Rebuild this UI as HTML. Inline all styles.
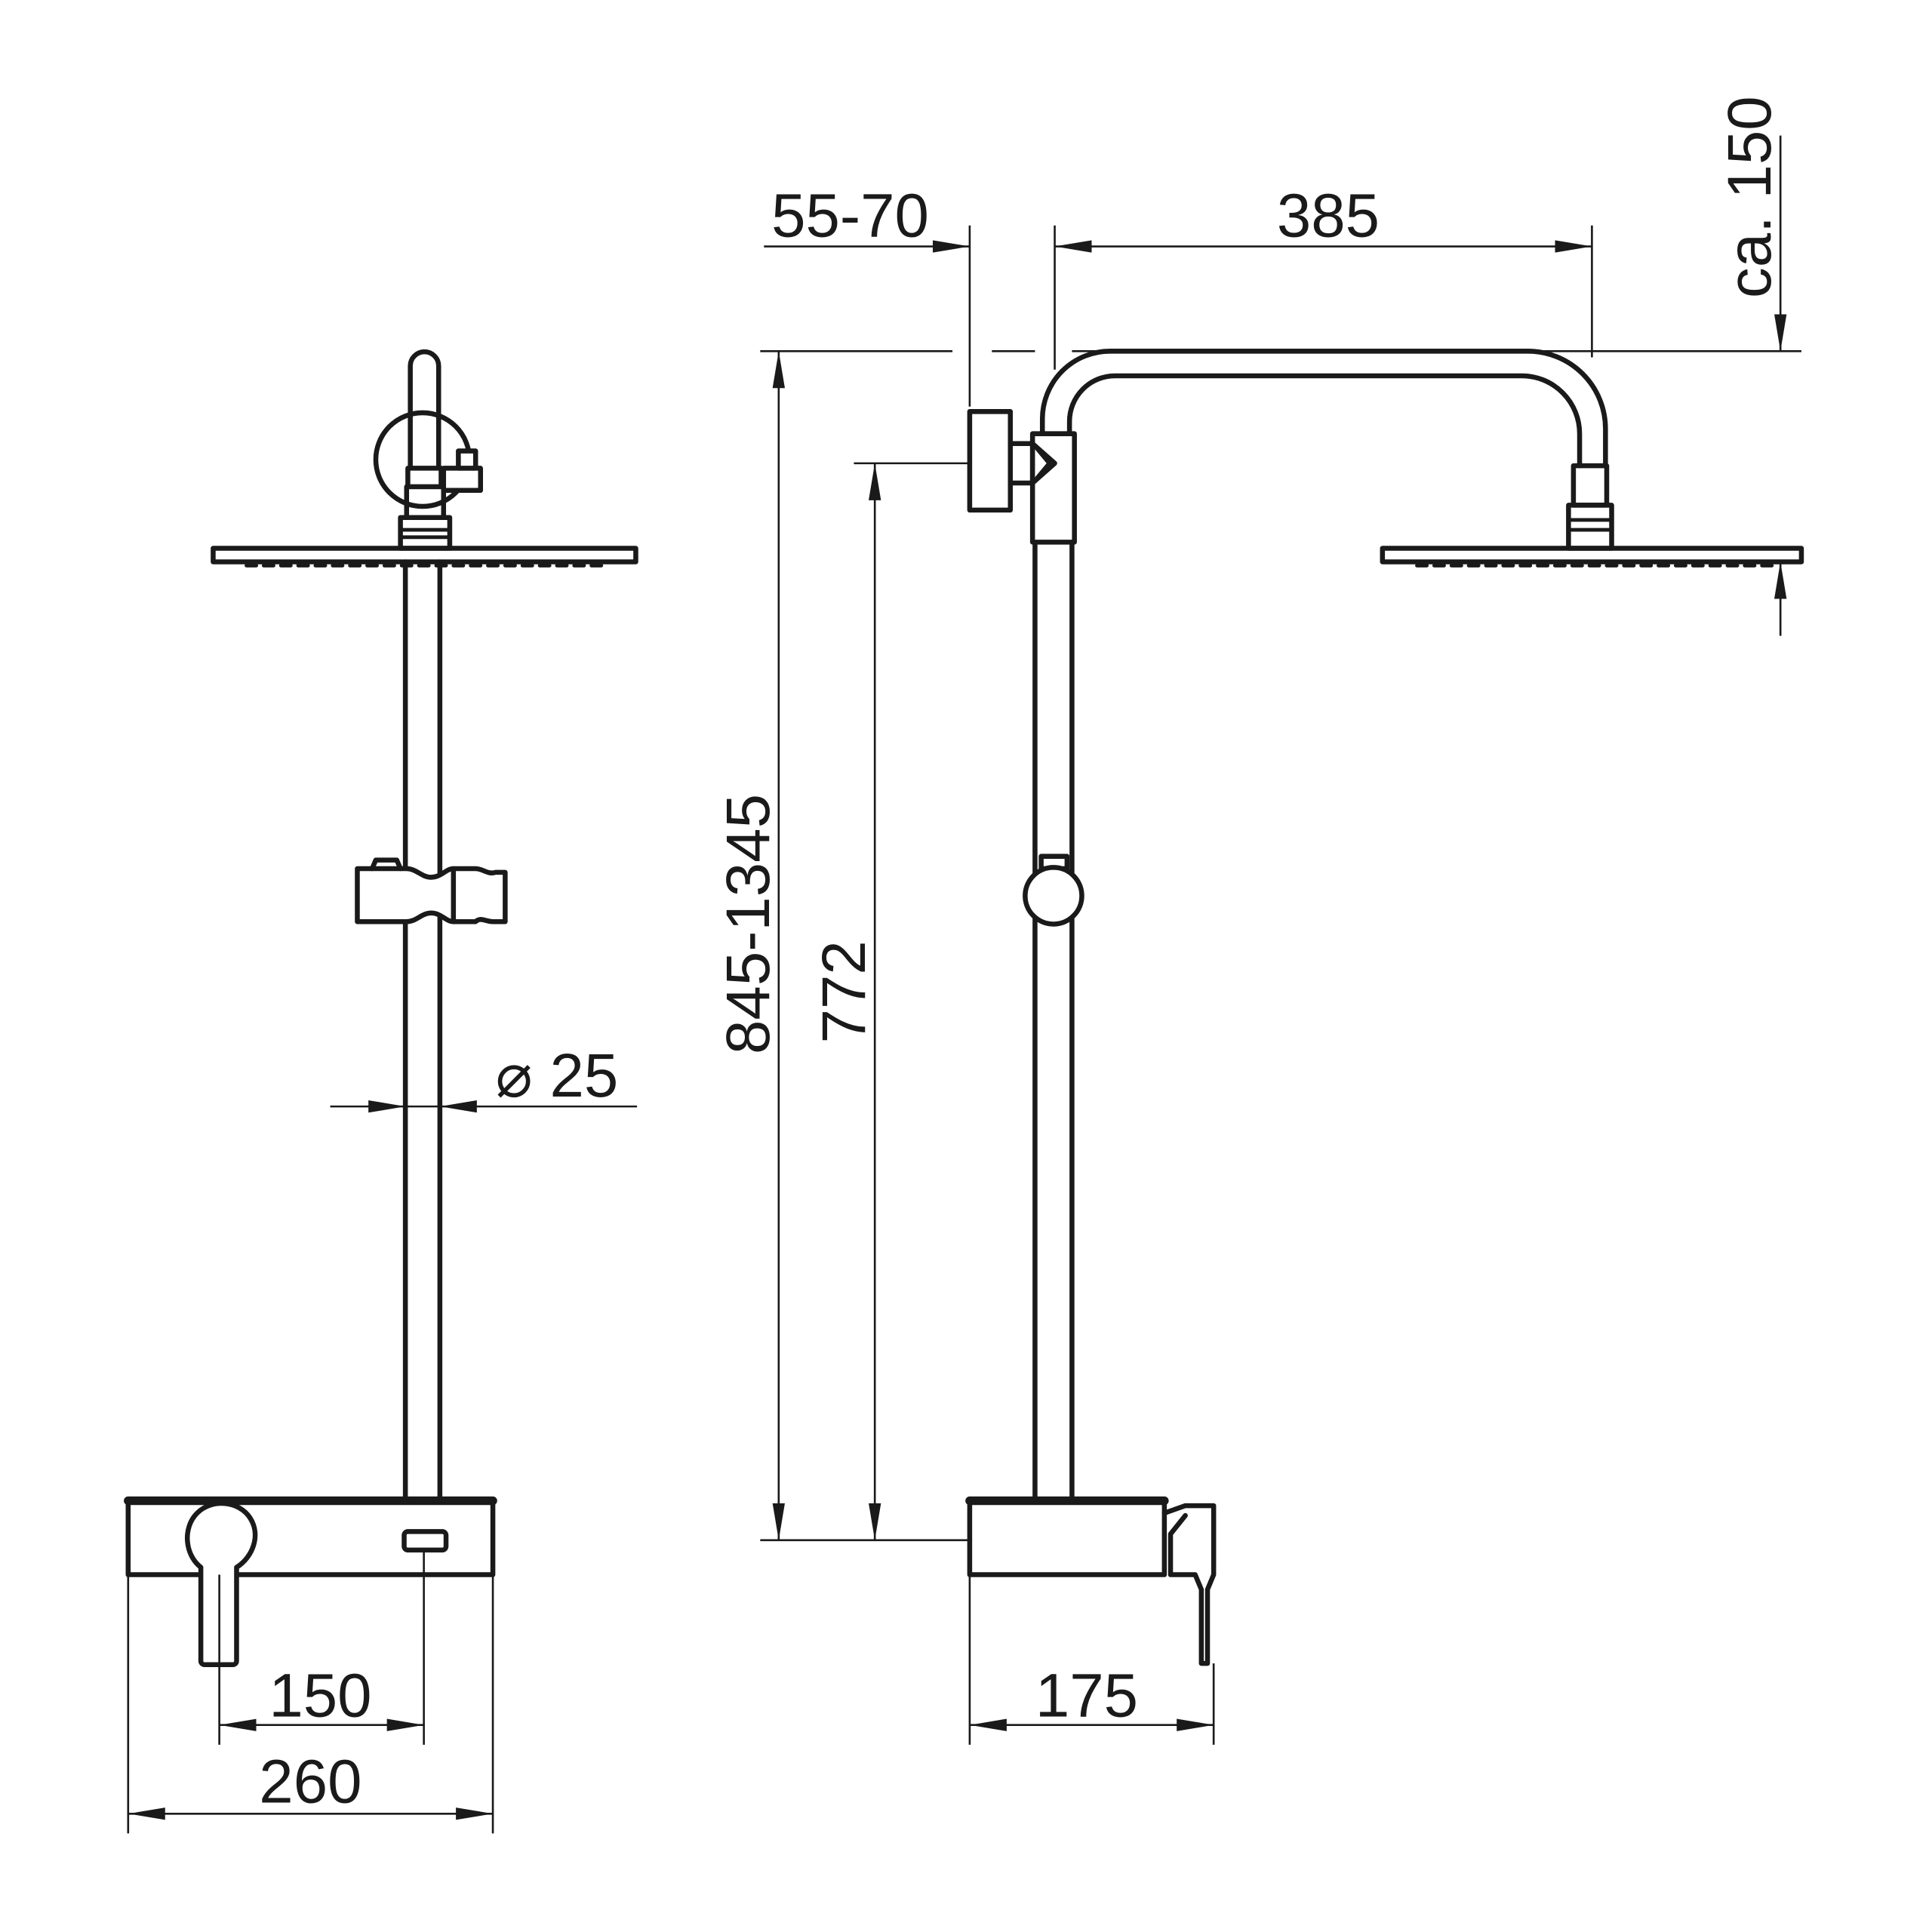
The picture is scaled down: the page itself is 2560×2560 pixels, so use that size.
<!DOCTYPE html>
<html><head><meta charset="utf-8"><style>html,body{margin:0;padding:0;background:#fff}svg{display:block}</style></head>
<body>
<svg width="2560" height="2560" viewBox="0 0 1568 1568" xmlns="http://www.w3.org/2000/svg" font-family="Liberation Sans, DejaVu Sans, sans-serif">
<defs>
<marker id="a" viewBox="0 0 30 10" refX="30" refY="5" markerWidth="30" markerHeight="10" markerUnits="userSpaceOnUse" orient="auto-start-reverse"><path d="M0,0 L30,5 L0,10 Z" fill="#1a1a1a"/></marker>
</defs>
<g fill="none" stroke="#1a1a1a" stroke-width="4" stroke-linejoin="round" stroke-linecap="round">
<!-- LEFT VIEW -->
<line x1="329" y1="456" x2="329" y2="1218"/>
<line x1="357" y1="456" x2="357" y2="1218"/>
<rect x="173" y="445" width="343" height="11"/>
<path d="M200,459 H490" stroke-dasharray="8 6" stroke-width="3"/>
<rect x="325" y="420" width="40" height="25"/>
<line x1="325" y1="430" x2="365" y2="430" stroke-width="3"/>
<line x1="325" y1="436" x2="365" y2="436" stroke-width="3"/>
<rect x="330" y="395" width="30" height="25"/>
<circle cx="343" cy="373" r="38"/>
<path d="M333,380 V297 a11.5,11.5 0 0 1 23,0 V380"/>
<rect x="331" y="380" width="27" height="15" fill="#fff"/>
<rect x="360" y="380" width="30" height="18" fill="#fff"/>
<rect x="372" y="366" width="14" height="14" fill="#fff"/>
<path d="M290,705 H330 C338,705 342,712 350,712 C358,712 362,705 368,705 H386 C392,705 396,710 402,708 L410,708 V748 H400 C394,748 390,744 386,748 H368 C362,748 358,741 350,741 C342,741 338,748 330,748 H290 Z" fill="#fff"/>
<line x1="368" y1="705" x2="368" y2="748"/>
<path d="M302,705 L305,698 H322 L325,705"/>
<!-- ⌀25 -->
<!-- mixer -->
<rect x="104" y="1218" width="296" height="60" fill="#fff"/>
<line x1="104" y1="1218" x2="400" y2="1218" stroke-width="7"/>
<path d="M163,1272 C150,1262 148,1240 160,1228 C172,1216 194,1218 203,1232 C212,1246 205,1264 192,1272 V1348 a3,3 0 0 1 -3,3 H166 a3,3 0 0 1 -3,-3 Z" fill="#fff"/>
<rect x="328" y="1243" width="34" height="15" rx="3"/>
<!-- RIGHT VIEW -->
<line x1="840" y1="440" x2="840" y2="1218"/>
<line x1="870" y1="440" x2="870" y2="1218"/>
<path d="M846,352 V340 A55,55 0 0 1 901,285 H1240 A63,63 0 0 1 1303,348 V378"/>
<path d="M868,352 V342 A37,37 0 0 1 905,305 H1235 A47,47 0 0 1 1282,352 V378"/>
<rect x="787" y="334" width="33" height="80" fill="#fff"/>
<rect x="820" y="360" width="18" height="32" fill="#fff"/>
<rect x="838" y="352" width="34" height="88" fill="#fff"/>
<path d="M838,360 L856,376 L838,392 M842,364 L852,376 L842,388"/>
<rect x="1277" y="378" width="27" height="32"/>
<rect x="1273" y="410" width="35" height="35"/>
<line x1="1273" y1="422" x2="1308" y2="422" stroke-width="3"/>
<line x1="1273" y1="430" x2="1308" y2="430" stroke-width="3"/>
<rect x="1122" y="445" width="340" height="11"/>
<path d="M1150,459 H1440" stroke-dasharray="8 6" stroke-width="3"/>
<rect x="845" y="695" width="21" height="10" fill="#fff"/>
<circle cx="855" cy="727" r="23" fill="#fff"/>
<rect x="787" y="1218" width="158" height="60" fill="#fff"/>
<line x1="787" y1="1218" x2="945" y2="1218" stroke-width="7"/>
<path d="M945,1228 L962,1222 H985 V1278 L980,1290 V1350 H975 V1290 L970,1278 H950 V1245 L962,1230" fill="#fff"/>
</g>
<!-- dimension lines -->
<g fill="none" stroke="#1a1a1a" stroke-width="1.6">
<line x1="268" y1="898" x2="329" y2="898" marker-end="url(#a)"/>
<line x1="329" y1="898" x2="357" y2="898"/>
<line x1="517" y1="898" x2="357" y2="898" marker-end="url(#a)"/>
<line x1="178" y1="1278" x2="178" y2="1416"/><line x1="344" y1="1258" x2="344" y2="1416"/>
<line x1="178" y1="1400" x2="344" y2="1400" marker-start="url(#a)" marker-end="url(#a)"/>
<line x1="104" y1="1278" x2="104" y2="1488"/><line x1="400" y1="1278" x2="400" y2="1488"/>
<line x1="104" y1="1472" x2="400" y2="1472" marker-start="url(#a)" marker-end="url(#a)"/>
<line x1="620" y1="200" x2="787" y2="200" marker-end="url(#a)"/>
<line x1="856" y1="200" x2="1292" y2="200" marker-start="url(#a)" marker-end="url(#a)"/>
<line x1="787" y1="183" x2="787" y2="330"/><line x1="856" y1="183" x2="856" y2="300"/><line x1="1292" y1="183" x2="1292" y2="290"/>
<line x1="617" y1="285" x2="773" y2="285"/><line x1="805" y1="285" x2="840" y2="285"/><line x1="870" y1="285" x2="1462" y2="285"/>
<line x1="1121" y1="456" x2="1462" y2="456"/>
<line x1="1445" y1="110" x2="1445" y2="285" marker-end="url(#a)"/>
<line x1="1445" y1="516" x2="1445" y2="456" marker-end="url(#a)"/>
<line x1="632" y1="285" x2="632" y2="1250" marker-start="url(#a)" marker-end="url(#a)"/>
<line x1="710" y1="376" x2="710" y2="1250" marker-start="url(#a)" marker-end="url(#a)"/>
<line x1="693" y1="376" x2="787" y2="376"/>
<line x1="617" y1="1250" x2="787" y2="1250"/>
<line x1="787" y1="1278" x2="787" y2="1416"/><line x1="985" y1="1350" x2="985" y2="1416"/>
<line x1="787" y1="1400" x2="985" y2="1400" marker-start="url(#a)" marker-end="url(#a)"/>
</g>
<g fill="#1a1a1a" font-size="50" text-anchor="middle">
<text x="452" y="890">⌀ 25</text>
<text x="260" y="1393">150</text>
<text x="252" y="1463">260</text>
<text x="690" y="192">55-70</text>
<text x="1078" y="192">385</text>
<text x="882" y="1393">175</text>
<text transform="translate(1437,160) rotate(-90)">ca. 150</text>
<text transform="translate(624,750) rotate(-90)">845-1345</text>
<text transform="translate(702,805) rotate(-90)">772</text>
</g>
</svg>
</body></html>
